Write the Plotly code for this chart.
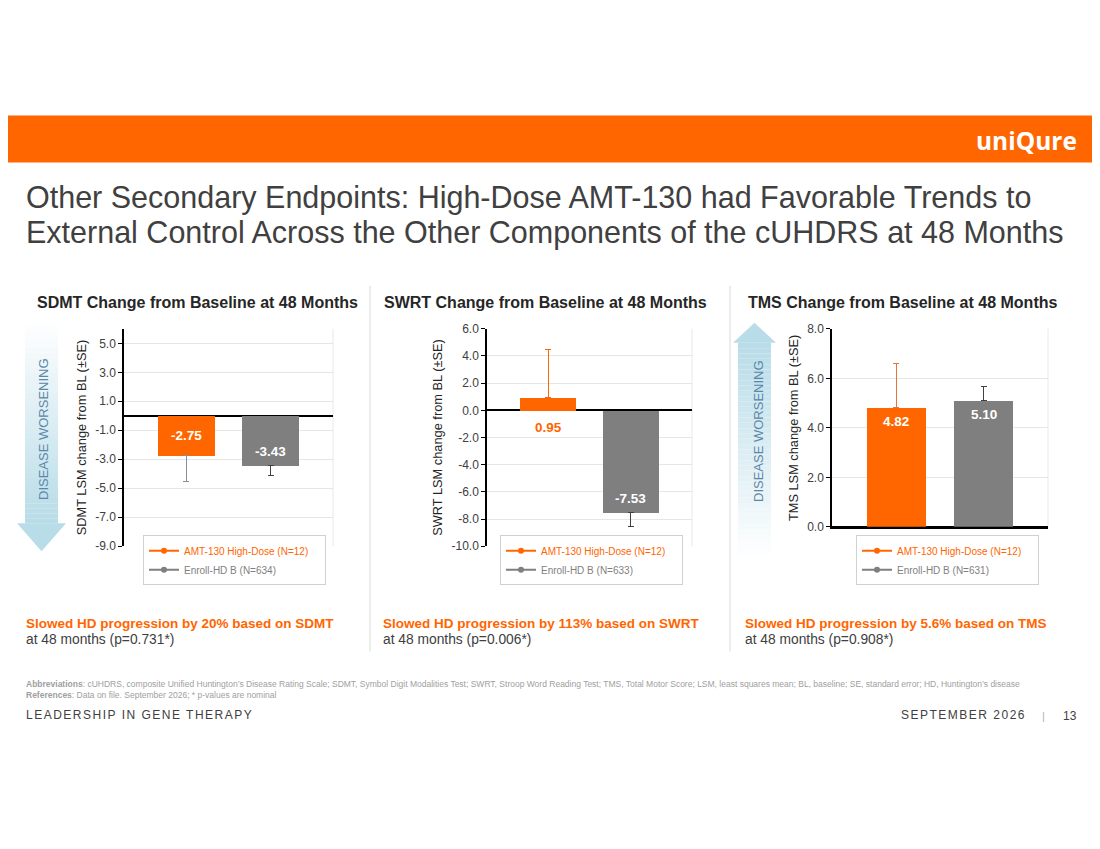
import plotly.graph_objects as go

# the page puts the plot div at about (8, 15) and the shot squeezes the page height a little,
# so positions below are given in slide pixels and mapped onto the figure
OX, OY = 8, 15
YS = 865 / 849
W, H = 1084, 834
FONT = "Liberation Sans, Arial, sans-serif"
ORANGE = "#ff6600"
GRAY = "#7f7f7f"
DARK = "#404040"

# data
groups = ["AMT-130 High-Dose", "Enroll-HD B"]

sdmt_values = [-2.75, -3.43]
sdmt_se = [1.76, 0.68]
sdmt_n = [12, 634]

swrt_values = [0.95, -7.53]
swrt_se = [3.55, 1.00]
swrt_n = [12, 633]

tms_values = [4.82, 5.10]
tms_se = [1.78, 0.56]
tms_n = [12, 631]

sdmt_ticks = [5, 3, 1, -1, -3, -5, -7, -9]
swrt_ticks = [6, 4, 2, 0, -2, -4, -6, -8, -10]
tms_ticks = [8, 6, 4, 2, 0]

panel_titles = ["SDMT Change from Baseline at 48 Months",
                "SWRT Change from Baseline at 48 Months",
                "TMS Change from Baseline at 48 Months"]
axis_titles = ["SDMT LSM change from BL (\u00b1SE)",
               "SWRT LSM change from BL (\u00b1SE)",
               "TMS LSM change from BL (\u00b1SE)"]
progression = ["Slowed HD progression by 20% based on SDMT",
               "Slowed HD progression by 113% based on SWRT",
               "Slowed HD progression by 5.6% based on TMS"]
p_values = ["0.731*", "0.006*", "0.908*"]


def px(x):
    return (x - OX) / W


def py(y):
    return 1 - (y * YS - OY) / H


def note(x, y, text, size, color=DARK, xanchor="left", **kw):
    return dict(x=px(x), y=py(y), xref="paper", yref="paper", xanchor=xanchor,
                yanchor="middle", showarrow=False, text=text,
                font=dict(family=FONT, size=size, color=color), **kw)


# label placement: "mid" = middle of bar, "end" = inside near the bar end, "base" = under zero
panels = [
    dict(values=sdmt_values, se=sdmt_se, n=sdmt_n, ticks=sdmt_ticks, yrange=[-9, 6],
         xdom=[124, 333], ydom=[545, 328], center=197, text_x=24, legend_x=143,
         err_colors=["#8c8c9c", "#404040"], labels=["mid", "end"]),
    dict(values=swrt_values, se=swrt_se, n=swrt_n, ticks=swrt_ticks, yrange=[-10, 6],
         xdom=[487, 692], ydom=[545, 328], center=545, text_x=381, legend_x=500,
         err_colors=[ORANGE, "#404040"], labels=["base", "end"]),
    dict(values=tms_values, se=tms_se, n=tms_n, ticks=tms_ticks, yrange=[0, 8],
         xdom=[832, 1048], ydom=[525.7, 328], center=902, text_x=743, legend_x=856,
         err_colors=["#e8733a", "#404040"], labels=["end", "end"]),
]

fig = go.Figure()
annotations = []
shapes = []
colors = [ORANGE, GRAY]

for i, p in enumerate(panels):
    k = "" if i == 0 else str(i + 1)
    xa, ya = "x" + k, "y" + k
    leg = "legend" + k
    for j in range(2):
        v = p["values"][j]
        up = [p["se"][j]] if v >= 0 else [0]
        down = [0] if v >= 0 else [p["se"][j]]
        fig.add_trace(go.Bar(
            x=[groups[j]], y=[v], xaxis=xa, yaxis=ya, width=0.68,
            marker=dict(color=colors[j], line=dict(width=0)),
            error_y=dict(type="data", symmetric=False, array=up, arrayminus=down,
                         color=p["err_colors"][j], thickness=1, width=3),
            showlegend=False, hoverinfo="skip"))
        mode = p["labels"][j]
        if mode == "mid":
            ly, shift, col = v / 2, 0, "white"
        elif mode == "end":
            ly, shift, col = v, (14 if v < 0 else -14), "white"
        else:
            ly, shift, col = 0, -17, colors[j]
        annotations.append(dict(
            x=groups[j], y=ly, xref=xa, yref=ya, yanchor="middle", yshift=shift,
            text=f"<b>{v:.2f}</b>", showarrow=False,
            font=dict(family=FONT, size=13.5, color=col)))
    # legend entries drawn like the slide's line+marker keys
    for j in range(2):
        fig.add_trace(go.Scatter(
            x=[None], y=[None], xaxis=xa, yaxis=ya, mode="lines+markers",
            line=dict(color=colors[j], width=2), marker=dict(color=colors[j], size=6),
            name=f"<span style='color:{colors[j]}'>{groups[j]} (N={p['n'][j]})</span>"
                 "\u00a0\u00a0\u00a0\u00a0",
            legend=leg, showlegend=True))

    fig.update_layout({
        "xaxis" + k: dict(domain=[px(p["xdom"][0]), px(p["xdom"][1])], anchor=ya,
                          type="category", categoryorder="array", categoryarray=groups,
                          range=[-0.74, 1.74], showticklabels=False, showgrid=False,
                          zeroline=False, ticks="",
                          showline=(i == 2), linecolor="black", linewidth=1.5),
        "yaxis" + k: dict(domain=[py(p["ydom"][0]), py(p["ydom"][1])], anchor=xa,
                          range=p["yrange"], tickvals=p["ticks"],
                          ticktext=[f"{t:.1f}" for t in p["ticks"]],
                          tickfont=dict(family=FONT, size=12, color=DARK),
                          ticks="outside", ticklen=4, tickcolor="black",
                          showline=True, linecolor="black", linewidth=1.5,
                          showgrid=True, gridcolor="#e6e6e6", gridwidth=1,
                          zeroline=True, zerolinecolor="black", zerolinewidth=1.5,
                          title=dict(text=axis_titles[i], standoff=6,
                                     font=dict(family=FONT, size=12.8, color="#262626"))),
        leg: dict(x=px(p["legend_x"]), y=py(534), xanchor="left", yanchor="top",
                  bgcolor="white", bordercolor="#d0d0d0", borderwidth=1,
                  font=dict(family=FONT, size=10), itemwidth=30),
    })

    # faint right border of each plot area
    shapes.append(dict(type="line", xref=xa + " domain", yref=ya + " domain",
                       x0=1, x1=1, y0=0, y1=1, line=dict(color="#e8e8e8", width=1),
                       layer="below"))

    annotations.append(note(p["center"], 302, f"<b>{panel_titles[i]}</b>", 16,
                            color="#262626", xanchor="center"))
    annotations.append(note(p["text_x"], 622, f"<b>{progression[i]}</b>", 13.5, color=ORANGE))
    annotations.append(note(p["text_x"], 638, f"at 48 months (p={p_values[i]})", 13.8))

# orange header band and logo
shapes.append(dict(type="rect", xref="paper", yref="paper", x0=0, x1=1,
                   y0=py(162), y1=py(115), fillcolor=ORANGE, line=dict(width=0)))
annotations.append(dict(x=px(1079), y=py(140), xref="paper", yref="paper",
                        xanchor="right", yanchor="middle", showarrow=False,
                        text="<b>uniQure</b>",
                        font=dict(family="Open Sans, sans-serif", size=24.5, color="white")))

# slide title
annotations.append(note(24, 197, "Other Secondary Endpoints: High-Dose AMT-130 had "
                        "Favorable Trends to", 30.5))
annotations.append(note(24, 232, "External Control Across the Other Components of the "
                        "cUHDRS at 48 Months", 30.5))

# panel dividers
for xd in [370, 730]:
    shapes.append(dict(type="line", xref="paper", yref="paper", x0=px(xd), x1=px(xd),
                       y0=py(650), y1=py(285), line=dict(color="#d9d9d9", width=1)))


# "disease worsening" arrows, shaft drawn as stacked slices for the fade
def blend(t):
    c0, c1 = (255, 255, 255), (184, 220, 232)
    return "rgb(%d,%d,%d)" % tuple(round(a + (b - a) * t) for a, b in zip(c0, c1))


def arrow(sx0, sx1, hx0, hx1, y_far, y_head, y_tip):
    steps = 40
    for s in range(steps):
        ya0 = y_far + (y_head - y_far) * s / steps
        ya1 = y_far + (y_head - y_far) * (s + 1) / steps
        shapes.append(dict(type="rect", xref="paper", yref="paper",
                           x0=px(sx0), x1=px(sx1), y0=py(ya0), y1=py(ya1),
                           fillcolor=blend((s + 1) / steps), line=dict(width=0),
                           layer="below"))
    mid = (hx0 + hx1) / 2
    path = (f"M {px(hx0)},{py(y_head)} L {px(hx1)},{py(y_head)} "
            f"L {px(mid)},{py(y_tip)} Z")
    shapes.append(dict(type="path", xref="paper", yref="paper", path=path,
                       fillcolor=blend(1), line=dict(width=0), layer="below"))


arrow(25, 58, 17, 66, 322, 522, 550)
arrow(738, 771, 733, 776, 555, 342, 322)

for xc, yc in [(44, 428), (758, 430)]:
    annotations.append(note(xc, yc, "DISEASE WORSENING", 13, color="#5b87a8",
                            xanchor="center", textangle=-90))

# footnotes
annotations.append(note(
    24, 688,
    "<b>Abbreviations</b>: cUHDRS, composite Unified Huntington\u2019s Disease Rating Scale; "
    "SDMT, Symbol Digit Modalities Test; SWRT, Stroop Word Reading Test; TMS, Total Motor "
    "Score; LSM, least squares mean; BL, baseline; SE, standard error; HD, Huntington\u2019s "
    "disease<br><b>References</b>: Data on file. September 2026; * p-values are nominal",
    8.5, color="#a0a0a0", align="left"))

annotations.append(note(24, 714, "<span style='letter-spacing:1.5px'>LEADERSHIP IN GENE "
                        "THERAPY</span>", 12))
annotations.append(note(1028, 714, "<span style='letter-spacing:1.5px'>SEPTEMBER 2026</span>",
                        12, xanchor="right"))
annotations.append(note(1043, 715, "|", 11, color="#b0b0b0", xanchor="center"))
annotations.append(note(1070, 715, "13", 12, xanchor="center"))

fig.update_layout(
    width=W, height=H, margin=dict(l=0, r=0, t=0, b=0),
    paper_bgcolor="white", plot_bgcolor="white",
    barmode="overlay", bargap=0, showlegend=True,
    font=dict(family=FONT, color=DARK),
    annotations=annotations, shapes=shapes,
)

fig.write_html("out.html")
